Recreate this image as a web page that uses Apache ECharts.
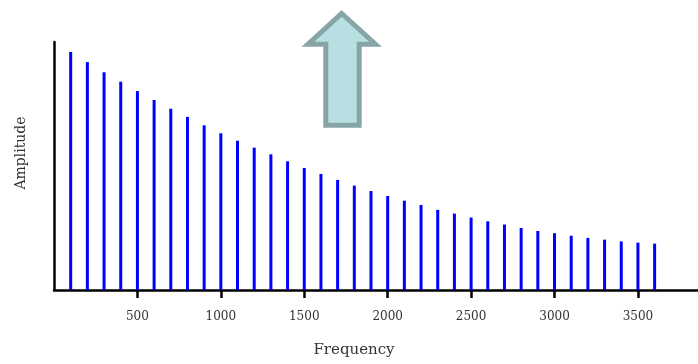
<!DOCTYPE html>
<html><head><meta charset="utf-8">
<script src="https://cdn.jsdelivr.net/npm/echarts@6/dist/echarts.min.js"></script>
<style>html,body{margin:0;padding:0;background:#fff}#c{width:698px;height:364px}</style>
</head><body><div id="c"></div>
<script>
const frequencies = [100,200,300,400,500,600,700,800,900,1000,1100,1200,1300,1400,1500,1600,1700,1800,1900,2000,2100,2200,2300,2400,2500,2600,2700,2800,2900,3000,3100,3200,3300,3400,3500,3600];
const amplitudes = [0.960,0.919,0.878,0.840,0.802,0.766,0.731,0.698,0.664,0.632,0.602,0.574,0.547,0.519,0.492,0.468,0.444,0.421,0.399,0.379,0.360,0.343,0.323,0.308,0.292,0.277,0.264,0.250,0.238,0.229,0.219,0.210,0.203,0.196,0.191,0.187];
const xTicks = [500,1000,1500,2000,2500,3000,3500];
const xName = 'Frequency';
const yName = 'Amplitude';

const chart = echarts.init(document.getElementById('c'), null, {renderer:'canvas'});
const font = '"DejaVu Serif","Liberation Serif",serif';
chart.setOption({
  animation:false,
  grid:{left:54, right:0, top:42, bottom:74},
  xAxis:{
    type:'value', min:0, max:3860,
    axisLine:{show:true, lineStyle:{color:'#000', width:2.5}},
    axisTick:{show:true, customValues:xTicks, length:8, lineStyle:{color:'#000', width:2.5}},
    axisLabel:{customValues:xTicks, margin:21, fontFamily:font, fontSize:12, color:'#333',
      formatter:function(v){return String(v);}},
    splitLine:{show:false}
  },
  yAxis:{
    type:'value', min:0, max:1,
    axisLine:{show:true, lineStyle:{color:'#000', width:2.5}},
    axisTick:{show:false}, axisLabel:{show:false}, splitLine:{show:false}
  },
  series:[{
    type:'bar', barWidth:3,
    itemStyle:{color:'#0000ff'},
    data: frequencies.map((f,i)=>[f, amplitudes[i]])
  }],
  graphic:[
    {type:'text', x:354, y:350, style:{text:xName, font:'15px '+font, fill:'#333', textAlign:'center', textVerticalAlign:'middle'}},
    {type:'text', x:21, y:153, rotation:Math.PI/2, style:{text:yName, font:'14px '+font, fill:'#333', textAlign:'center', textVerticalAlign:'middle'}},
    {type:'polygon', shape:{points:[[341.7,13.5],[375.5,44.2],[359.2,44.2],[359.2,125.2],[325.8,125.2],[325.8,44.2],[308,44.2]]},
     style:{fill:'#b8dfe2', stroke:'#87a4a6', lineWidth:5, lineJoin:'miter'}}
  ]
});
</script></body></html>
